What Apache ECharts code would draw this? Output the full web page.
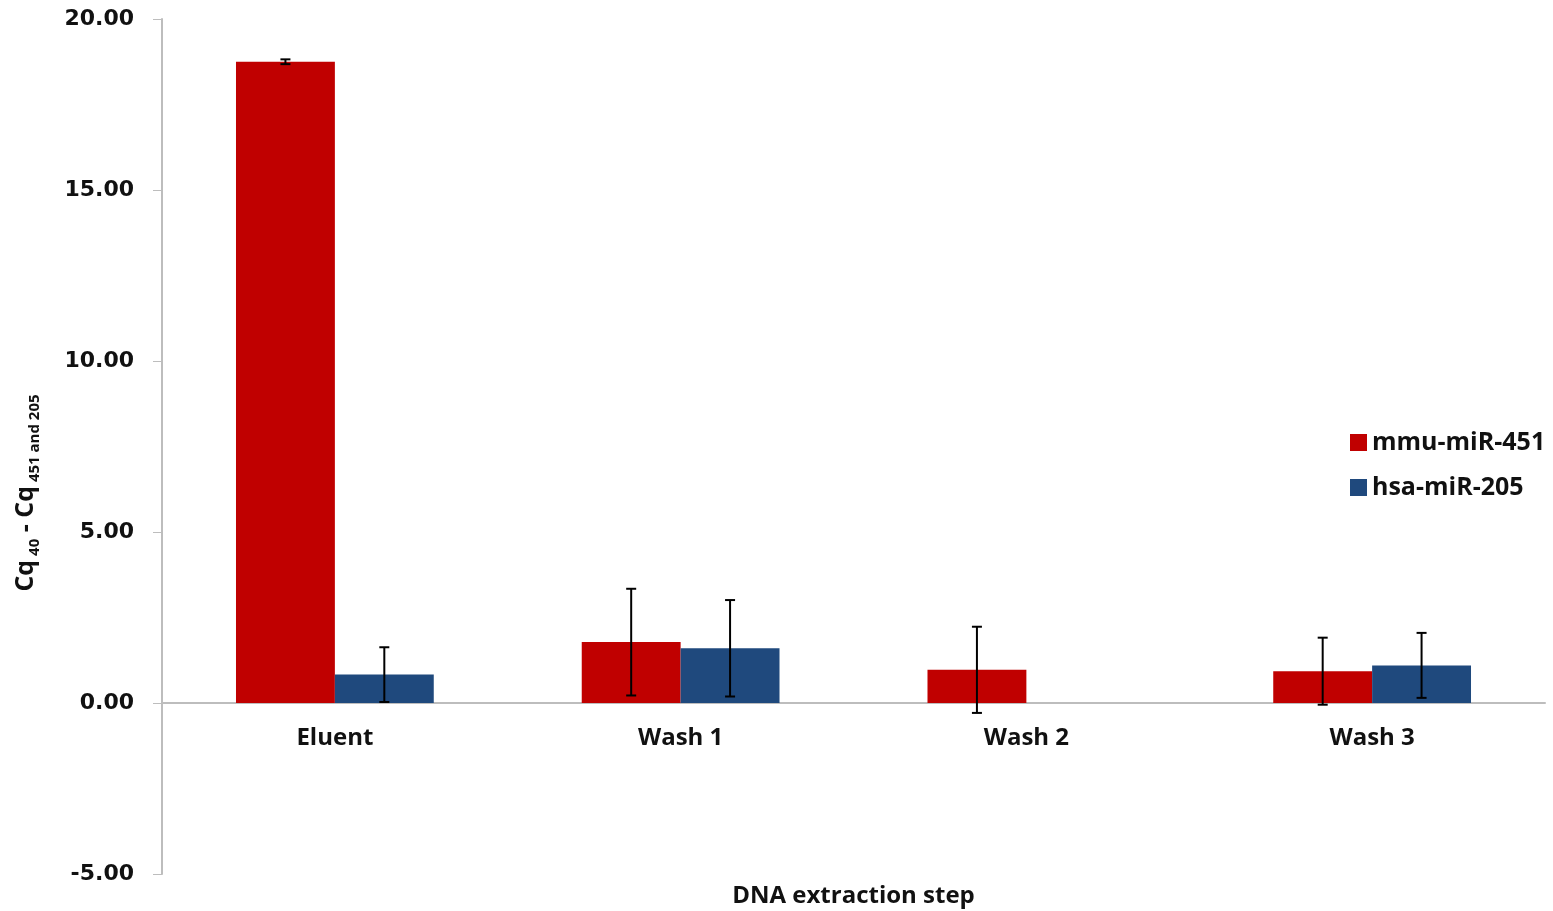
<!DOCTYPE html>
<html>
<head>
<meta charset="utf-8">
<script src="https://cdn.jsdelivr.net/npm/echarts@6/dist/echarts.min.js"></script>
<style>
  html, body { margin: 0; padding: 0; background: #fff; }
  #chart { width: 1553px; height: 911px; }
</style>
</head>
<body>
<div id="chart"></div>
<script>
const categories = ['Eluent', 'Wash 1', 'Wash 2', 'Wash 3']
const seriesNames = ['mmu-miR-451', 'hsa-miR-205']
const mmuValues = [18.75, 1.78, 0.97, 0.93]
const mmuErrors = [0.07, 1.56, 1.26, 0.98]
const hsaValues = [0.83, 1.60, null, 1.10]
const hsaErrors = [0.80, 1.41, null, 0.95]
const yTicks = { min: -5, max: 20, interval: 5 }

const barFrac = 0.286
const colors = ['#C00000', '#1F497D']

const chart = echarts.init(document.getElementById('chart'))

// error bars: [categoryIndex, value, error, seriesIndex]
const errorData = []
mmuValues.forEach((v, i) => {
  if (v != null) errorData.push([i, v, mmuErrors[i], 0])
})
hsaValues.forEach((v, i) => {
  if (v != null) errorData.push([i, v, hsaErrors[i], 1])
})

const renderError = (params, api) => {
  const idx = api.value(0)
  const val = api.value(1)
  const err = api.value(2)
  const s = api.value(3)
  const bandW = api.size([1, 0])[0]
  const bw = bandW * barFrac
  const center = api.coord([idx, val])
  const x = center[0] + (s === 0 ? -bw / 2 : bw / 2)
  const top = api.coord([idx, val + err])[1]
  const bot = api.coord([idx, val - err])[1]
  const cap = 5
  const style = { stroke: '#000', lineWidth: 2 }
  return {
    type: 'group',
    children: [
      { type: 'line', shape: { x1: x, y1: top, x2: x, y2: bot }, style },
      { type: 'line', shape: { x1: x - cap, y1: top, x2: x + cap, y2: top }, style },
      { type: 'line', shape: { x1: x - cap, y1: bot, x2: x + cap, y2: bot }, style }
    ]
  }
}

const option = {
  animation: false,
  grid: { left: 162, right: 8, top: 19, bottom: 37, outerBoundsMode: 'none', containLabel: false },
  legend: {
    data: seriesNames,
    orient: 'vertical',
    left: 1345,
    top: 425,
    itemWidth: 17,
    itemHeight: 17,
    itemGap: 20,
    icon: 'rect',
    textStyle: {
      fontFamily: 'Open Sans',
      fontWeight: 'bold',
      fontSize: 25,
      color: '#111'
    }
  },
  xAxis: {
    type: 'category',
    data: categories,
    axisLine: { lineStyle: { color: '#bdbdbd', width: 2 } },
    axisTick: { show: false },
    axisLabel: {
      margin: -148,
      fontFamily: 'Open Sans',
      fontWeight: 'bold',
      fontSize: 24,
      color: '#111'
    },
    name: 'DNA extraction step',
    nameLocation: 'middle',
    nameGap: 10,
    nameTextStyle: {
      fontFamily: 'Open Sans',
      fontWeight: 'bold',
      fontSize: 24,
      color: '#111'
    }
  },
  yAxis: {
    type: 'value',
    min: yTicks.min,
    max: yTicks.max,
    interval: yTicks.interval,
    splitLine: { show: false },
    axisLine: { show: true, lineStyle: { color: '#bdbdbd', width: 2 } },
    axisTick: { show: true, length: 9, lineStyle: { color: '#bdbdbd' } },
    axisLabel: {
      margin: 28,
      formatter: v => v.toFixed(2),
      fontFamily: 'DejaVu Sans',
      fontWeight: 'bold',
      fontSize: 22,
      color: '#111'
    }
  },
  graphic: [
    {
      type: 'text',
      x: 26,
      y: 493,
      rotation: Math.PI / 2,
      style: {
        text: '{b|Cq}{s| 40}{b| - Cq}{s| 451 and 205}',
        align: 'center',
        verticalAlign: 'middle',
        fill: '#111',
        rich: {
          b: { fontFamily: 'Open Sans', fontWeight: 'bold', fontSize: 25, fill: '#111', verticalAlign: 'bottom' },
          s: { fontFamily: 'Open Sans', fontWeight: 'bold', fontSize: 15, fill: '#111', verticalAlign: 'bottom', padding: [0, 0, -4, 0] }
        }
      }
    }
  ],
  series: [
    {
      name: seriesNames[0],
      type: 'bar',
      barWidth: barFrac * 100 + '%',
      barGap: '0%',
      itemStyle: { color: colors[0] },
      data: mmuValues
    },
    {
      name: seriesNames[1],
      type: 'bar',
      barWidth: barFrac * 100 + '%',
      barGap: '0%',
      itemStyle: { color: colors[1] },
      data: hsaValues.map(v => (v == null ? '-' : v))
    },
    {
      type: 'custom',
      renderItem: renderError,
      data: errorData,
      z: 10,
      silent: true
    }
  ]
}

chart.setOption(option)
</script>
</body>
</html>
